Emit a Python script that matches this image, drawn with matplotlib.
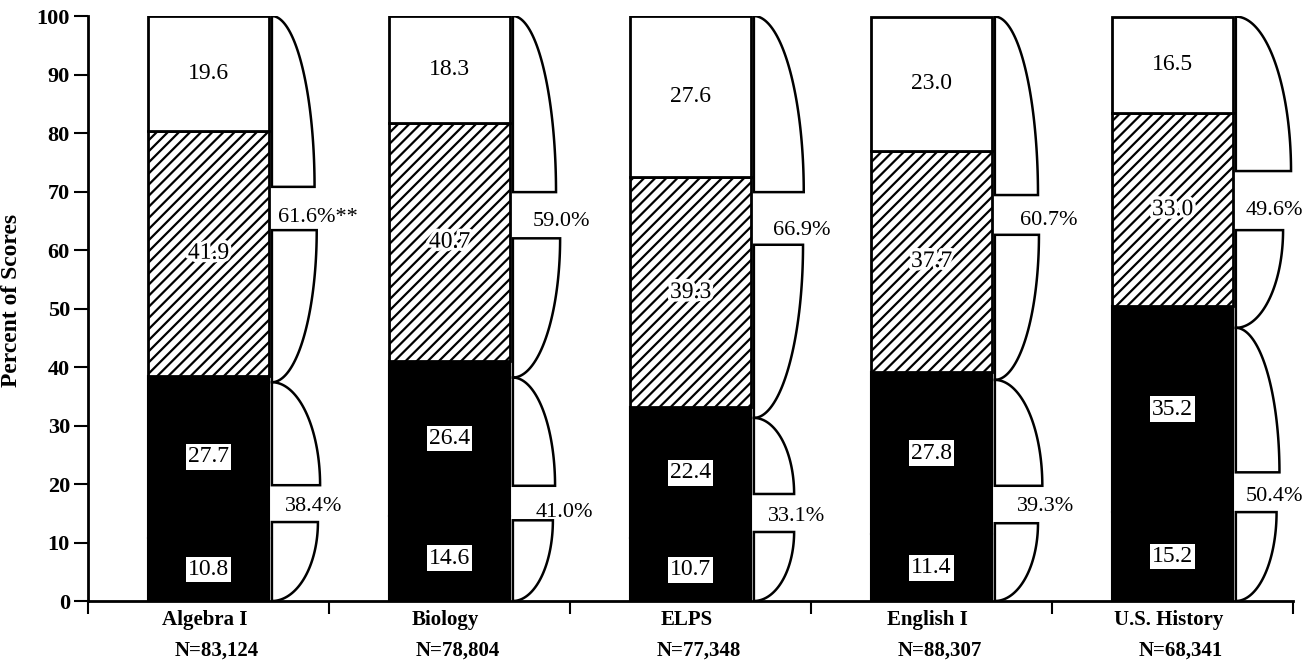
import matplotlib.pyplot as plt
import matplotlib.patheffects as pe
import numpy as np
from matplotlib.patches import Polygon

plt.rcParams['font.family'] = ['Liberation Serif', 'DejaVu Serif']
plt.rcParams['hatch.linewidth'] = 1.6

# data
subjects = ["Algebra I", "Biology", "ELPS", "English I", "U.S. History"]
n_counts = ["N=83,124", "N=78,804", "N=77,348", "N=88,307", "N=68,341"]
level1 = [10.8, 14.6, 10.7, 11.4, 15.2]   # bottom, black
level2 = [27.7, 26.4, 22.4, 27.8, 35.2]   # black
level3 = [41.9, 40.7, 39.3, 37.7, 33.0]   # hatched
level4 = [19.6, 18.3, 27.6, 23.0, 16.5]   # white, top
upper_pct = ["61.6%**", "59.0%", "66.9%", "60.7%", "49.6%"]
lower_pct = ["38.4%", "41.0%", "33.1%", "39.3%", "50.4%"]

# layout of the braces (y in percent, x in category units)
join_drop = [1.1, 2.8, 1.8, 1.4, 3.7]
top_gap_hi = [70.8, 69.9, 69.9, 69.4, 73.5]
top_gap_lo = [63.4, 62.0, 60.9, 62.6, 63.4]
bot_gap_hi = [19.8, 19.7, 18.3, 19.7, 22.0]
bot_gap_lo = [13.5, 13.8, 11.8, 13.3, 15.2]
top_lab_y = [65.6, 64.8, 63.4, 65.1, 66.7]
bot_lab_y = [16.1, 15.2, 14.4, 16.1, 17.8]
top_lab_x = [0.288, 0.346, 0.342, 0.367, 0.305]
bot_lab_x = [0.317, 0.359, 0.322, 0.355, 0.305]
w_top_a = [0.177, 0.179, 0.207, 0.179, 0.229]
w_top_b = [0.186, 0.196, 0.204, 0.183, 0.196]
w_bot_a = [0.200, 0.175, 0.167, 0.197, 0.181]
w_bot_b = [0.191, 0.166, 0.167, 0.179, 0.169]
brace_x = 0.263


def upper_half(x0, w, ytop, ylow):
    t = np.linspace(0, np.pi / 2, 60)
    pts = [(x0, ytop)] + list(zip(x0 + w * np.sin(t), ylow + (ytop - ylow) * np.cos(t))) + [(x0, ylow)]
    return Polygon(pts, closed=True, facecolor='white', edgecolor='black', lw=1.8, zorder=3)


def lower_half(x0, w, yhigh, ybot):
    t = np.linspace(0, np.pi / 2, 60)
    pts = [(x0, yhigh)] + list(zip(x0 + w * np.cos(t), yhigh - (yhigh - ybot) * np.sin(t))) + [(x0, ybot)]
    return Polygon(pts, closed=True, facecolor='white', edgecolor='black', lw=1.8, zorder=3)


fig = plt.figure(figsize=(13.08, 6.65), dpi=100)
ax = fig.add_axes([0.0673, 0.0962, 0.9212, 0.8797])

x = np.arange(len(subjects))
b1 = np.array(level1)
b2 = b1 + np.array(level2)
b3 = b2 + np.array(level3)
b4 = b3 + np.array(level4)

ax.bar(x, level1, 0.5, color='black', edgecolor='black', lw=1.5, zorder=2)
ax.bar(x, level2, 0.5, bottom=b1, color='black', edgecolor='black', lw=1.5, zorder=2)
ax.bar(x, level3, 0.5, bottom=b2, color='white', edgecolor='black', hatch='///', lw=2, zorder=2)
ax.bar(x, level4, 0.5, bottom=b3, color='white', edgecolor='black', lw=2, zorder=2)

box = dict(boxstyle='square,pad=0.1', facecolor='white', edgecolor='none')
for i in range(len(subjects)):
    ax.text(i, b1[i] / 2, f"{level1[i]:.1f}", ha='center', va='center', fontsize=17, bbox=box, zorder=4)
    ax.text(i, (b1[i] + b2[i]) / 2, f"{level2[i]:.1f}", ha='center', va='center', fontsize=17, bbox=box, zorder=4)
    ax.text(i, (b2[i] + b3[i]) / 2, f"{level3[i]:.1f}", ha='center', va='center', fontsize=17, zorder=4,
            path_effects=[pe.withStroke(linewidth=5, foreground='white')])
    ax.text(i, (b3[i] + b4[i]) / 2, f"{level4[i]:.1f}", ha='center', va='center', fontsize=17, zorder=4)

    # braces
    x0 = i + brace_x
    join = b2[i] - join_drop[i]
    ax.add_patch(upper_half(x0, w_top_a[i], b4[i], top_gap_hi[i]))
    ax.add_patch(lower_half(x0, w_top_b[i], top_gap_lo[i], join))
    ax.add_patch(upper_half(x0, w_bot_a[i], join, bot_gap_hi[i]))
    ax.add_patch(lower_half(x0, w_bot_b[i], bot_gap_lo[i], 0))
    ax.text(i + top_lab_x[i], top_lab_y[i], upper_pct[i], ha='left', va='center', fontsize=16, zorder=4)
    ax.text(i + bot_lab_x[i], bot_lab_y[i], lower_pct[i], ha='left', va='center', fontsize=16, zorder=4)

    # category labels
    ax.annotate(subjects[i], xy=(i, 0), xycoords=('data', 'axes fraction'), xytext=(-3, -14),
                textcoords='offset points', ha='center', va='center', fontsize=15, fontweight='bold')
    ax.annotate(n_counts[i], xy=(i, 0), xycoords=('data', 'axes fraction'), xytext=(6, -36),
                textcoords='offset points', ha='center', va='center', fontsize=15, fontweight='bold')

ax.set_xlim(-0.5, 4.5)
ax.set_ylim(0, 100)
ax.set_yticks(range(0, 101, 10))
ax.set_yticklabels([str(v) for v in range(0, 101, 10)], fontsize=16, fontweight='bold')
ax.set_xticks(np.arange(-0.5, 4.6, 1))
ax.set_xticklabels([])
ax.tick_params(axis='y', direction='out', length=10, width=1.5, pad=3)
ax.tick_params(axis='x', direction='out', length=9, width=1.5)
for s in ['top', 'right']:
    ax.spines[s].set_visible(False)
for s in ['left', 'bottom']:
    ax.spines[s].set_linewidth(2)
ax.set_ylabel("Percent of Scores", fontsize=17, fontweight='bold')
ax.yaxis.set_label_coords(-0.0545, 0.513)

fig.savefig("out.png", dpi=100)
